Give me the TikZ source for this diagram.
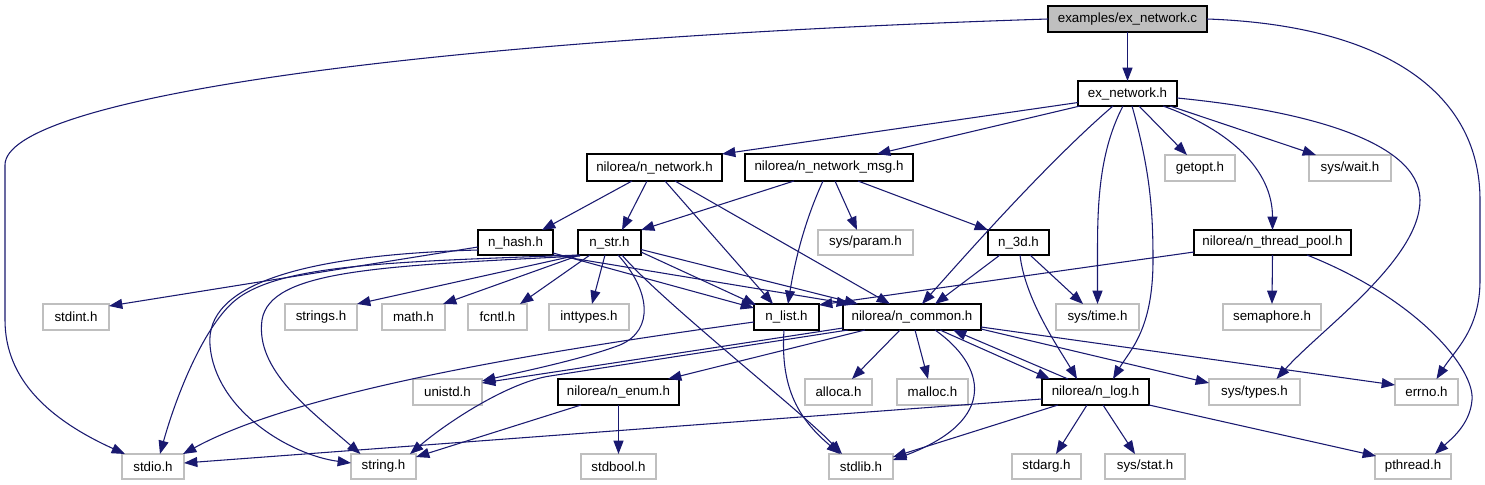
\documentclass[tikz,border=0pt]{standalone}
\usepackage{fontspec}
\setmainfont{Liberation Sans}
\usetikzlibrary{arrows.meta,calc}
\definecolor{edgec}{HTML}{191970}
\definecolor{undocc}{HTML}{BFBFBF}
\definecolor{rootc}{HTML}{BFBFBF}
\newcommand\nd[7]{\node[#1,minimum width={(#5-#3)*0.75pt},minimum height={(#6-#4)*0.75pt}] (#2) at ({(#3+#5)/2},{(#4+#6)/2}) {#7};}
\begin{document}
\begin{tikzpicture}[x=0.75pt,y=-0.75pt,
  font=\fontsize{10}{12}\selectfont,
  base/.style={inner sep=0pt,outer sep=0pt,line width=0.9pt,fill=white},
  doc/.style={base,draw=black},
  und/.style={base,draw=undocc},
  root/.style={base,draw=black,fill=rootc},
  dep/.style={draw=edgec,line width=0.8pt,-{Triangle[length=10pt,width=7.5pt]}}]
\fill[white] (0,0) rectangle (1485,485);
\useasboundingbox (0,0) rectangle (1485,485);
% nodes
\nd{root}{exc}{1048}{6}{1207}{32}{examples/ex\_network.c}
\nd{doc}{exh}{1078}{81}{1177}{106}{ex\_network.h}
\nd{und}{getopt}{1165}{155}{1235}{181}{getopt.h}
\nd{und}{syswait}{1309}{155}{1391}{181}{sys/wait.h}
\nd{doc}{nn}{587}{154}{722}{181}{nilorea/n\_network.h}
\nd{doc}{nm}{745}{154}{913}{181}{nilorea/n\_network\_msg.h}
\nd{doc}{nhash}{478}{230}{553}{255}{n\_hash.h}
\nd{doc}{nstr}{578}{230}{641}{255}{n\_str.h}
\nd{und}{sysparam}{818}{230}{913}{255}{sys/param.h}
\nd{doc}{n3d}{988}{230}{1049}{255}{n\_3d.h}
\nd{doc}{tp}{1194}{230}{1351}{255}{nilorea/n\_thread\_pool.h}
\nd{und}{stdint}{43}{304}{109}{330}{stdint.h}
\nd{und}{strings}{285}{304}{357}{330}{strings.h}
\nd{und}{math}{382}{304}{445}{330}{math.h}
\nd{und}{fcntl}{468}{304}{527}{330}{fcntl.h}
\nd{und}{inttypes}{549}{304}{629}{330}{inttypes.h}
\nd{doc}{nlist}{754}{304}{819}{330}{n\_list.h}
\nd{doc}{ncommon}{843}{304}{981}{330}{nilorea/n\_common.h}
\nd{und}{systime}{1056}{304}{1139}{330}{sys/time.h}
\nd{und}{semaphore}{1223}{304}{1321}{330}{semaphore.h}
\nd{und}{unistd}{413}{379}{482}{405}{unistd.h}
\nd{doc}{nenum}{558}{379}{679}{405}{nilorea/n\_enum.h}
\nd{und}{alloca}{805}{379}{872}{405}{alloca.h}
\nd{und}{malloc}{897}{379}{968}{405}{malloc.h}
\nd{doc}{nlog}{1042}{379}{1149}{405}{nilorea/n\_log.h}
\nd{und}{systypes}{1209}{379}{1300}{405}{sys/types.h}
\nd{und}{errno}{1395}{379}{1458}{405}{errno.h}
\nd{und}{stdio}{122}{454}{184}{479}{stdio.h}
\nd{und}{string}{351}{454}{416}{479}{string.h}
\nd{und}{stdbool}{581}{454}{656}{479}{stdbool.h}
\nd{und}{stdlib}{829}{454}{893}{479}{stdlib.h}
\nd{und}{stdarg}{1012}{454}{1081}{479}{stdarg.h}
\nd{und}{sysstat}{1105}{454}{1185}{479}{sys/stat.h}
\nd{und}{pthread}{1375}{454}{1451}{479}{pthread.h}
% edges from examples/ex_network.c
\draw[dep] (exc.south) -- (exh.north);
\draw[dep] (exc.west) .. controls (400,40) and (5,100) .. (5,165) -- (5,320) .. controls (5,380) and (50,420) .. ($(stdio.north west)+(3,0)$);
\draw[dep] (exc.east) .. controls (1380,25) and (1480,90) .. (1480,200) -- (1480,280) .. controls (1480,330) and (1455,350) .. ($(errno.north)+(10,0)$);
% edges from ex_network.h
\draw[dep] ($(exh.west)+(0,9)$) -- (nn.north east);
\draw[dep] ($(exh.south west)+(2,0)$) -- ($(nm.north)+(48,0)$);
\draw[dep] ($(exh.south)+(-14.5,0)$) .. controls (1050,160) and (970,250) .. ($(ncommon.north)+(10,0)$);
\draw[dep] ($(exh.south)+(-4.5,0)$) .. controls (1100,150) and (1097.5,200) .. (1097.5,250) -- (systime.north);
\draw[dep] ($(exh.south)+(4.5,0)$) .. controls (1150,170) and (1153,210) .. (1153,260) .. controls (1153,330) and (1130,350) .. ($(nlog.north)+(17.5,0)$);
\draw[dep] ($(exh.south)+(11.5,0)$) -- ($(getopt.north)+(-13,0)$);
\draw[dep] ($(exh.south east)+(-14,0)$) .. controls (1230,130) and (1272.5,170) .. (tp.north);
\draw[dep] ($(exh.south east)+(-7,0)$) -- ($(syswait.north west)+(7,0)$);
\draw[dep] ($(exh.east)+(0,4.5)$) .. controls (1300,110) and (1420,140) .. (1420,200) .. controls (1420,260) and (1320,330) .. ($(systypes.north)+(22,0)$);
% edges from n_network.h
\draw[dep] ($(nn.south)+(-22.5,0)$) -- ($(nhash.north)+(26.5,0)$);
\draw[dep] ($(nn.south)+(-7.5,0)$) -- ($(nstr.north)+(12.5,0)$);
\draw[dep] ($(nn.south)+(10.5,0)$) -- ($(nlist.north)+(-13.5,0)$);
\draw[dep] ($(nn.south)+(20.5,0)$) -- ($(ncommon.north)+(-22,0)$);
% edges from n_network_msg.h
\draw[dep] ($(nm.south)+(-35,0)$) -- (nstr.north east);
\draw[dep] ($(nm.south)+(-6,0)$) .. controls (805,220) and (795,260) .. ($(nlist.north)+(1.5,0)$);
\draw[dep] ($(nm.south)+(6,0)$) -- ($(sysparam.north)+(-8.5,0)$);
\draw[dep] ($(nm.south)+(29,0)$) -- (n3d.north west);
% edges from n_3d.h
\draw[dep] ($(n3d.south)+(-18.5,0)$) -- ($(ncommon.north)+(23,0)$);
\draw[dep] ($(n3d.south)+(11.5,0)$) -- ($(systime.north)+(-14.5,0)$);
\draw[dep] ($(n3d.south)+(1.5,0)$) .. controls (1025,300) and (1060,350) .. ($(nlog.north)+(-18.5,0)$);
% edges from n_thread_pool.h
\draw[dep] ($(tp.south west)+(0,-3)$) -- ($(nlist.north east)+(0,1)$);
\draw[dep] (tp.south) -- (semaphore.north);
\draw[dep] ($(tp.south east)+(-44,0)$) .. controls (1420,300) and (1475,370) .. (1472,400) .. controls (1470,425) and (1450,440) .. ($(pthread.north)+(22,0)$);
% edges from n_hash.h
\draw[dep] ($(nhash.west)+(0,4.5)$) -- ($(stdint.north east)+(0,2)$);
\draw[dep] ($(nhash.west)+(0,7.5)$) .. controls (300,255) and (205,285) .. (210,345) .. controls (215,410) and (290,455) .. ($(string.west)+(0,-3.5)$);
\draw[dep] ($(nhash.south east)+(0,-2)$) -- ($(nlist.north west)+(0,4)$);
\draw[dep] (nhash.south east) -- ($(ncommon.north west)+(7,0)$);
% edges from n_str.h
\draw[dep] ($(nstr.south west)+(2,0)$) .. controls (380,262) and (270,265) .. (230,305) .. controls (200,335) and (175,400) .. ($(stdio.north)+(7,0)$);
\draw[dep] ($(nstr.south west)+(2,1)$) .. controls (380,266) and (270,270) .. (262,320) .. controls (255,370) and (310,410) .. ($(string.north)+(-23,0)$);
\draw[dep] (nstr.south west) -- (strings.north east);
\draw[dep] ($(nstr.south west)+(2,0)$) -- ($(math.north east)+(-2,0)$);
\draw[dep] ($(nstr.south west)+(12,0)$) -- ($(fcntl.north)+(22.5,0)$);
\draw[dep] ($(nstr.south)+(-4.5,0)$) -- ($(inttypes.north)+(3,0)$);
\draw[dep] ($(nstr.south)+(8.5,0)$) .. controls (650,290) and (655,330) .. (620,345) .. controls (580,360) and (520,372) .. ($(unistd.east)+(0,-11)$);
\draw[dep] ($(nstr.south)+(12.5,0)$) .. controls (660,300) and (800,410) .. ($(stdlib.north)+(-19,0)$);
\draw[dep] ($(nstr.south east)+(0,-3)$) -- ($(nlist.north west)+(2,1)$);
\draw[dep] ($(nstr.east)+(0,7)$) -- ($(ncommon.north west)+(15,0)$);
% edges from n_common.h
\draw[dep] ($(ncommon.south west)+(0,-2)$) -- ($(unistd.east)+(0,-9)$);
\draw[dep] ($(ncommon.south west)+(5,0)$) -- (550,376) .. controls (510,382) and (450,420) .. ($(string.north east)+(-6,0)$);
\draw[dep] ($(ncommon.south west)+(22,0)$) -- ($(nenum.north east)+(-11,0)$);
\draw[dep] ($(ncommon.south)+(-12,0)$) -- ($(alloca.north)+(13.5,0)$);
\draw[dep] ($(ncommon.south)+(3,0)$) -- ($(malloc.north)+(-4.5,0)$);
\draw[dep] ($(ncommon.south)+(23,0)$) .. controls (985,365) and (1000,420) .. ($(stdlib.east)+(0,-6.5)$);
\draw[dep] ($(ncommon.south)+(28,0)$) -- ($(nlog.north west)+(8,0)$);
\draw[dep] ($(ncommon.south east)+(0,-1)$) -- ($(systypes.west)+(0,-9)$);
\draw[dep] ($(ncommon.south east)+(0,-3)$) -- ($(errno.west)+(0,-7)$);
% edges from n_log.h
\draw[dep] ($(nlog.north west)+(26,0)$) -- ($(ncommon.south)+(41,0)$);
\draw[dep] ($(nlog.west)+(0,7)$) -- ($(stdio.east)+(0,-3.5)$);
\draw[dep] ($(nlog.south west)+(16,0)$) -- ($(stdlib.north east)+(0,3)$);
\draw[dep] ($(nlog.south)+(-8.5,0)$) -- ($(stdarg.north)+(9.5,0)$);
\draw[dep] ($(nlog.south)+(7.5,0)$) -- ($(sysstat.north)+(-10,0)$);
\draw[dep] (nlog.south east) -- ($(pthread.north west)+(1,2)$);
% edges from n_enum.h
\draw[dep] (nenum.south) -- (stdbool.north);
\draw[dep] ($(nenum.south west)+(23,0)$) -- ($(string.north east)+(0,3)$);
% edges from n_list.h
\draw[dep] ($(nlist.west)+(0,5)$) .. controls (550,350) and (300,390) .. ($(stdio.north east)+(-1,0)$);
\draw[dep] ($(nlist.south)+(-2.5,0)$) .. controls (780,390) and (800,420) .. ($(stdlib.north)+(-21,0)$);
\end{tikzpicture}
\end{document}
